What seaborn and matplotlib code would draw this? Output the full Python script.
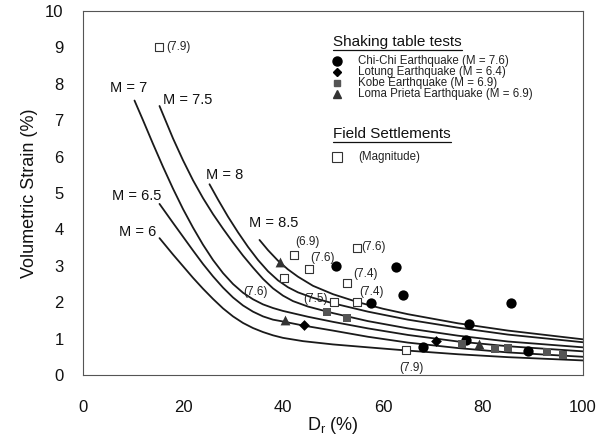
import matplotlib
matplotlib.use("Agg")
import matplotlib.pyplot as plt
import seaborn as sns
import pandas as pd

# ---- design curves: volumetric strain (%) vs relative density Dr (%) ----
curve_m = ["6", "6.5", "7", "7.5", "8", "8.5"]
curve_dr = {
    "6":   [15.3, 18, 20, 22, 24, 26, 28, 30, 32, 34, 36, 38, 40, 44, 50, 57, 65, 75, 85, 100],
    "6.5": [15.3, 18, 20, 22, 24, 26, 28, 30, 32, 34, 36, 38, 40, 44, 50, 57, 65, 75, 85, 100],
    "7":   [10.3, 12, 14, 16, 18, 20, 22, 24, 26, 28, 30, 32, 34, 36, 38, 40, 45, 50, 57, 65, 75, 85, 100],
    "7.5": [15.3, 18, 20, 22, 24, 26, 28, 30, 32, 34, 36, 38, 40, 42, 45, 50, 57, 65, 75, 85, 100],
    "8":   [25.3, 27, 29, 31, 33, 35, 37, 39, 41, 43, 46, 50, 57, 65, 75, 85, 100],
    "8.5": [35.3, 37, 39, 41, 43, 46, 50, 55, 60, 65, 75, 85, 100],
}
curve_ev = {
    "6":   [3.76, 3.31, 2.99, 2.67, 2.37, 2.09, 1.83, 1.61, 1.43, 1.29, 1.18, 1.09, 1.02,
            0.93, 0.84, 0.76, 0.67, 0.57, 0.49, 0.40],
    "6.5": [4.70, 4.18, 3.80, 3.42, 3.05, 2.71, 2.40, 2.13, 1.91, 1.74, 1.61, 1.52, 1.47,
            1.36, 1.22, 1.05, 0.89, 0.74, 0.62, 0.50],
    "7":   [7.54, 7.00, 6.35, 5.72, 5.12, 4.56, 4.05, 3.58, 3.16, 2.80, 2.50, 2.26, 2.08,
            1.94, 1.84, 1.76, 1.60, 1.46, 1.28, 1.10, 0.92, 0.79, 0.65],
    "7.5": [7.39, 6.50, 5.90, 5.35, 4.86, 4.42, 4.02, 3.64, 3.28, 2.95, 2.64, 2.38, 2.18,
            2.03, 1.88, 1.70, 1.48, 1.28, 1.08, 0.92, 0.76],
    "8":   [5.24, 4.82, 4.35, 3.92, 3.52, 3.16, 2.85, 2.60, 2.41, 2.27, 2.12, 1.97, 1.74,
            1.52, 1.30, 1.11, 0.90],
    "8.5": [3.71, 3.43, 3.14, 2.90, 2.70, 2.45, 2.22, 2.00, 1.82, 1.67, 1.42, 1.22, 0.98],
}
label_dr = {"6": 10.9, "6.5": 10.7, "7": 9.2, "7.5": 20.9, "8": 28.4, "8.5": 38.1}
label_ev = {"6": 3.93, "6.5": 4.92, "7": 7.88, "7.5": 7.55, "8": 5.49, "8.5": 4.18}

# ---- shaking table tests ----
chichi_dr = [50.6, 62.6, 63.9, 57.6, 85.5, 77.2, 76.6, 67.9, 88.9]
chichi_ev = [2.99, 2.96, 2.20, 1.99, 1.97, 1.40, 0.96, 0.78, 0.66]
lotung_dr = [44.2, 70.6]
lotung_ev = [1.37, 0.93]
kobe_dr = [48.7, 52.7, 75.7, 82.3, 85.0, 92.7, 96.0]
kobe_ev = [1.74, 1.56, 0.84, 0.71, 0.75, 0.63, 0.54]
loma_dr = [39.4, 40.4, 79.1]
loma_ev = [3.11, 1.51, 0.84]

# ---- field settlements with earthquake magnitude ----
field_dr = [15.1, 42.1, 45.1, 40.1, 50.1, 54.7, 52.7, 54.7, 64.6]
field_ev = [9.00, 3.30, 2.90, 2.67, 2.01, 2.01, 2.52, 3.48, 0.69]
field_mag = ["(7.9)", "(6.9)", "(7.6)", "(7.6)", "(7.5)", "(7.4)", "(7.4)", "(7.6)", "(7.9)"]
field_lbl_off = [(14, 0), (10, 9), (10, 8), (-20, -10), (-13, 2), (11, 7), (14, 7), (12, 1), (4, -13)]

x_ticks = [0, 20, 40, 60, 80, 100]
y_ticks = list(range(0, 11))

sns.set_theme(style="white")
plt.rcParams["font.family"] = ["Liberation Sans", "DejaVu Sans"]
plt.rcParams["mathtext.fontset"] = "custom"
plt.rcParams["mathtext.rm"] = "Liberation Sans"
plt.rcParams["mathtext.it"] = "Liberation Sans"

fig = plt.figure(figsize=(6.04, 4.42), dpi=100)
ax = fig.add_axes([83 / 604, 1 - 375 / 442, 500 / 604, 364 / 442])

curves = pd.concat(
    [pd.DataFrame({"Dr": curve_dr[m], "ev": curve_ev[m], "M": m}) for m in curve_m],
    ignore_index=True,
)
for m in curve_m:
    sns.lineplot(data=curves[curves["M"] == m], x="Dr", y="ev", ax=ax,
                 color="#1a1a1a", lw=1.3, sort=False, estimator=None, legend=False)
    ax.text(label_dr[m], label_ev[m], f"M = {m}", ha="center", va="center",
            fontsize=10.5, color="#111")

pts = dict(ax=ax, legend=False, linewidth=0, zorder=5)
sns.scatterplot(x=chichi_dr, y=chichi_ev, marker="o", s=55, color="black", **pts)
sns.scatterplot(x=lotung_dr, y=lotung_ev, marker="D", s=30, color="black", **pts)
sns.scatterplot(x=kobe_dr, y=kobe_ev, marker="s", s=34, color="#555555", **pts)
sns.scatterplot(x=loma_dr, y=loma_ev, marker="^", s=50, color="#333333", **pts)
sns.scatterplot(x=field_dr, y=field_ev, marker="s", s=34, facecolor="white",
                edgecolor="#333333", ax=ax, legend=False, linewidth=0.8, zorder=6)
for dr, ev, txt, off in zip(field_dr, field_ev, field_mag, field_lbl_off):
    ax.annotate(txt, (dr, ev), xytext=off, textcoords="offset points",
                ha="center", va="center", fontsize=8.5, color="#222")

ax.set_xlim(0, 100)
ax.set_ylim(0, 10)
ax.set_xticks(x_ticks)
ax.set_yticks(y_ticks)
ax.tick_params(axis="both", direction="in", length=4, width=0.7, color="#888",
               labelsize=12, labelcolor="#111")
ax.tick_params(axis="x", pad=18)
ax.tick_params(axis="y", pad=14)
for sp in ax.spines.values():
    sp.set_color("#555")
    sp.set_linewidth(0.8)
ax.set_xlabel(r"D$_\mathregular{r}$ (%)", fontsize=13, labelpad=0, color="#111")
ax.set_ylabel("Volumetric Strain (%)", fontsize=13, labelpad=5, color="#111")

# ---- legend block ----
def header(x, y, text):
    t = ax.text(x, y, text, transform=ax.transAxes, fontsize=11,
                ha="left", va="center", color="#111")
    fig.canvas.draw()
    bb = t.get_window_extent().transformed(ax.transAxes.inverted())
    ax.plot([bb.x0, bb.x1], [bb.y0 - 0.004, bb.y0 - 0.004], transform=ax.transAxes,
            color="#111", lw=0.9, clip_on=False)

header(0.50, 0.915, "Shaking table tests")
rows = [
    ("o", "black", 6.5, "Chi-Chi Earthquake (M = 7.6)"),
    ("D", "black", 4.5, "Lotung Earthquake (M = 6.4)"),
    ("s", "#555555", 4.5, "Kobe Earthquake (M = 6.9)"),
    ("^", "#333333", 6.0, "Loma Prieta Earthquake (M = 6.9)"),
]
for i, (mk, col, ms, txt) in enumerate(rows):
    y = 0.862 - i * 0.030
    ax.plot([0.508], [y], marker=mk, color=col, ms=ms, ls="none", transform=ax.transAxes)
    ax.text(0.55, y, txt, transform=ax.transAxes, fontsize=8.3, ha="left", va="center", color="#222")
header(0.50, 0.662, "Field Settlements")
ax.plot([0.508], [0.600], marker="s", mfc="white", mec="#333333", mew=0.8, ms=6.5,
        ls="none", transform=ax.transAxes)
ax.text(0.55, 0.600, "(Magnitude)", transform=ax.transAxes, fontsize=8.3,
        ha="left", va="center", color="#222")

fig.savefig("out.png", dpi=100)
